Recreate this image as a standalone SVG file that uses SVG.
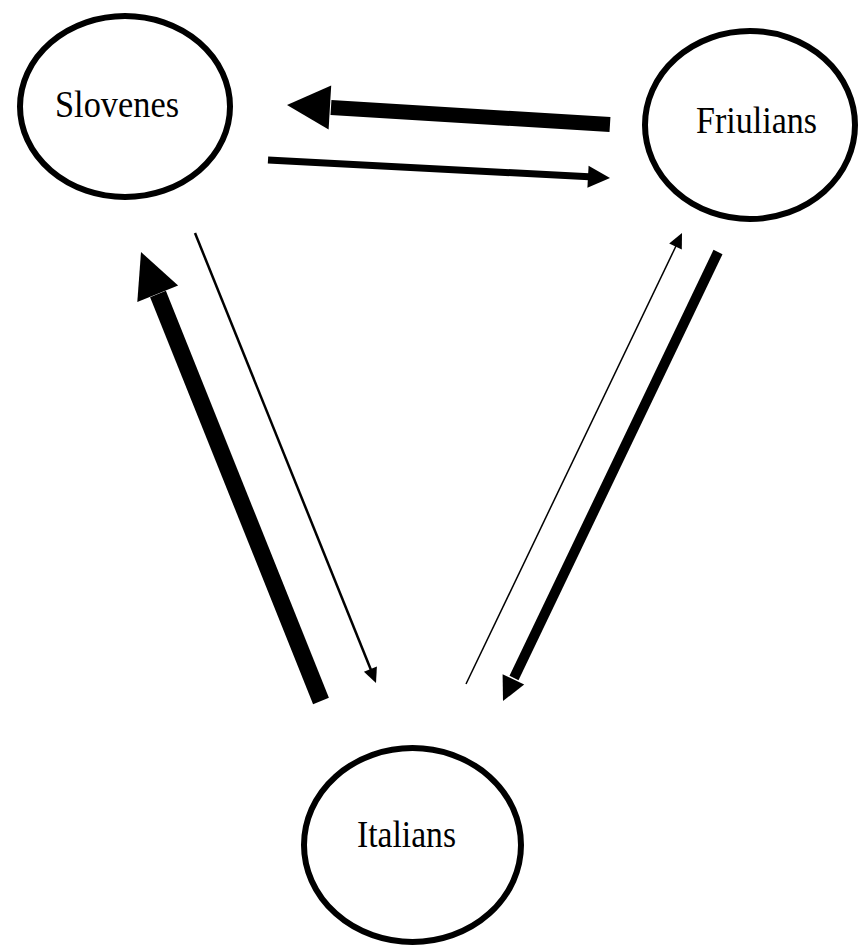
<svg xmlns="http://www.w3.org/2000/svg" width="858" height="948" viewBox="0 0 858 948">
<style>
.node ellipse{fill:#fff;stroke:#000;stroke-width:6}
.node text{font-family:"Liberation Serif","Times New Roman",serif;font-size:37px;fill:#000}
.conn line{stroke:#000;stroke-linecap:butt}
.conn polygon{fill:#000}
</style>
<rect width="858" height="948" fill="#fff"/>
<g id="slovenes" class="node"><ellipse cx="125" cy="106.5" rx="105" ry="90.5"/><text x="55" y="117" textLength="124" lengthAdjust="spacingAndGlyphs">Slovenes</text></g>
<g id="friulians" class="node"><ellipse cx="750" cy="125" rx="105" ry="94"/><text x="696" y="133" textLength="121" lengthAdjust="spacingAndGlyphs">Friulians</text></g>
<g id="italians" class="node"><ellipse cx="412.5" cy="845" rx="108.5" ry="97"/><text x="357" y="847" textLength="99" lengthAdjust="spacingAndGlyphs">Italians</text></g>
<g id="connectors" class="conn">
<line x1="610" y1="124.5" x2="331" y2="107.6" stroke-width="15"/>
<polygon points="287,105 331.2,85.6 328.6,129.6"/>
<line x1="268" y1="160" x2="589" y2="176.8" stroke-width="7"/>
<polygon points="610,178 587.4,187.8 588.6,165.8"/>
<line x1="321" y1="701" x2="158" y2="294" stroke-width="17"/>
<polygon points="141,252 178.1,285.6 137.3,302"/>
<line x1="195" y1="233" x2="371" y2="670" stroke-width="2.5"/>
<polygon points="376,683 363.9,671.7 376.9,666.5"/>
<line x1="466" y1="684" x2="676" y2="246" stroke-width="1.5"/>
<polygon points="682,233 681.8,249.5 669.2,243.5"/>
<line x1="718" y1="252" x2="514" y2="678" stroke-width="10"/>
<polygon points="503,701 502.6,674.2 524.2,684.6"/>
</g>
</svg>
